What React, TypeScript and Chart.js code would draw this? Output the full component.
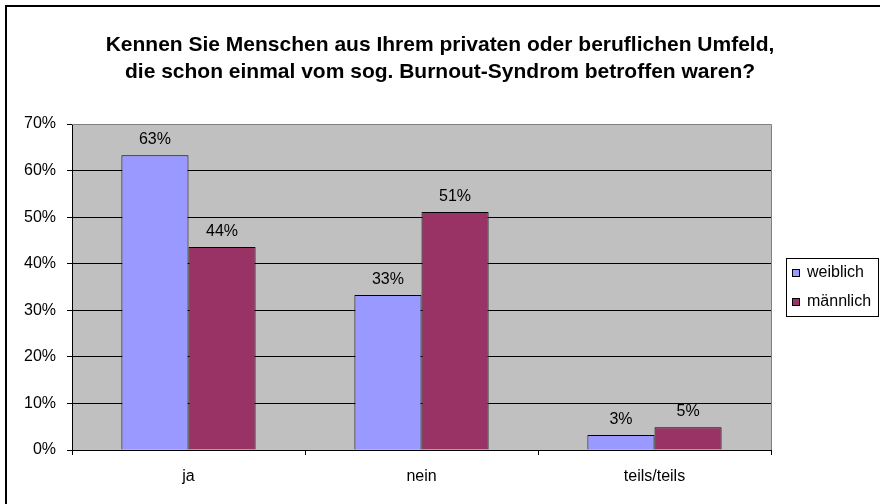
import React, { useEffect, useRef } from "react";
import { Chart, registerables } from "chart.js";

Chart.register(...registerables);

const titleLines = [
  "Kennen Sie Menschen aus Ihrem privaten oder beruflichen Umfeld,",
  "die schon einmal vom sog. Burnout-Syndrom betroffen waren?",
];
const categories = ["ja", "nein", "teils/teils"];
const seriesNames = ["weiblich", "männlich"];
const weiblich = [63.3, 33.3, 3.2];
const maennlich = [43.6, 51.1, 4.9];
const seriesColors = ["#9999FF", "#993366"];
const yTicks = [0, 10, 20, 30, 40, 50, 60, 70];

const FONT = "'Liberation Sans', Arial, sans-serif";

export default function App() {
  const ref = useRef<HTMLCanvasElement | null>(null);

  useEffect(() => {
    const canvas = ref.current;
    if (!canvas) return;

    const decor = {
      id: "decor",
      beforeDraw(chart: any) {
        const { ctx, chartArea: a } = chart;
        ctx.save();
        ctx.fillStyle = "#ffffff";
        ctx.fillRect(0, 0, chart.width, chart.height);
        ctx.fillStyle = "#C0C0C0";
        ctx.fillRect(a.left, a.top, a.right - a.left, a.bottom - a.top);
        ctx.restore();
      },
      beforeDatasetsDraw(chart: any) {
        const { ctx, chartArea: a } = chart;
        ctx.save();
        ctx.strokeStyle = "#808080";
        ctx.lineWidth = 1;
        ctx.beginPath();
        ctx.moveTo(a.left, a.top + 0.5);
        ctx.lineTo(a.right + 0.5, a.top + 0.5);
        ctx.lineTo(a.right + 0.5, a.bottom);
        ctx.stroke();
        ctx.restore();
      },
      afterDatasetsDraw(chart: any) {
        const { ctx } = chart;
        ctx.save();
        ctx.fillStyle = "#000";
        ctx.font = `16px ${FONT}`;
        ctx.textAlign = "center";
        ctx.textBaseline = "alphabetic";
        chart.data.datasets.forEach((ds: any, i: number) => {
          const meta = chart.getDatasetMeta(i);
          meta.data.forEach((bar: any, j: number) => {
            const v = ds.data[j];
            ctx.fillText(Math.round(v) + "%", bar.x, bar.y - 11);
          });
        });
        ctx.restore();
      },
      afterDraw(chart: any) {
        const { ctx } = chart;
        ctx.save();
        // outer chart frame (top & left visible)
        ctx.fillStyle = "#000";
        ctx.fillRect(5, 5, 2, chart.height);
        ctx.fillRect(5, 5, chart.width, 2);
        // title
        ctx.font = `bold 21px ${FONT}`;
        ctx.textAlign = "center";
        ctx.textBaseline = "middle";
        titleLines.forEach((t, i) => ctx.fillText(t, 440, 45 + i * 27));
        // legend
        const bx = 786, by = 258, bw = 92, bh = 58;
        ctx.fillStyle = "#fff";
        ctx.fillRect(bx, by, bw, bh);
        ctx.strokeStyle = "#000";
        ctx.lineWidth = 1;
        ctx.strokeRect(bx + 0.5, by + 0.5, bw, bh);
        ctx.font = `16px ${FONT}`;
        ctx.textAlign = "left";
        ctx.textBaseline = "middle";
        chart.data.datasets.forEach((ds: any, i: number) => {
          const cy = 273 + i * 29;
          ctx.fillStyle = ds.backgroundColor;
          ctx.fillRect(792, cy - 4, 7, 7);
          ctx.strokeRect(792.5, cy - 3.5, 7, 7);
          ctx.fillStyle = "#000";
          ctx.fillText(ds.label, 807, cy);
        });
        ctx.restore();
      },
    };

    const chart = new Chart(canvas, {
      type: "bar",
      data: {
        labels: categories,
        datasets: [
          {
            label: seriesNames[0],
            data: weiblich,
            backgroundColor: seriesColors[0],
            borderColor: "#000",
            borderWidth: 1,
            categoryPercentage: 0.576,
            barPercentage: 1,
          },
          {
            label: seriesNames[1],
            data: maennlich,
            backgroundColor: seriesColors[1],
            borderColor: "#000",
            borderWidth: 1,
            categoryPercentage: 0.576,
            barPercentage: 1,
          },
        ],
      },
      options: {
        animation: false,
        responsive: false,
        maintainAspectRatio: false,
        events: [],
        layout: { padding: { top: 124, left: 0, right: 109, bottom: 0 } },
        plugins: {
          legend: { display: false },
          title: { display: false },
          tooltip: { enabled: false },
        },
        scales: {
          x: {
            grid: {
              offset: true,
              drawOnChartArea: false,
              drawTicks: true,
              tickLength: 5,
              color: "#000",
            },
            border: { display: true, color: "#000", width: 1 },
            ticks: {
              color: "#000",
              font: { family: FONT, size: 16 },
              padding: 12,
            },
            afterFit(scale: any) {
              scale.height = 54;
            },
          },
          y: {
            min: 0,
            max: 70,
            afterBuildTicks(scale: any) {
              scale.ticks = yTicks.map((v) => ({ value: v }));
            },
            grid: {
              color: (c: any) => (c.tick && c.tick.value === 70 ? "#808080" : "#000"),
              tickColor: "#000",
              tickLength: 5,
              drawTicks: true,
            },
            border: { display: true, color: "#000", width: 1 },
            ticks: {
              color: "#000",
              font: { family: FONT, size: 16 },
              padding: 11,
              callback: (v: any) => v + "%",
            },
            afterFit(scale: any) {
              scale.width = 72;
            },
          },
        },
      },
      plugins: [decor],
    });

    return () => chart.destroy();
  }, []);

  return (
    <div style={{ position: "fixed", left: 0, top: 0, width: 880, height: 504, background: "#fff" }}>
      <canvas ref={ref} width={880} height={504} style={{ display: "block", width: 880, height: 504 }} />
    </div>
  );
}
